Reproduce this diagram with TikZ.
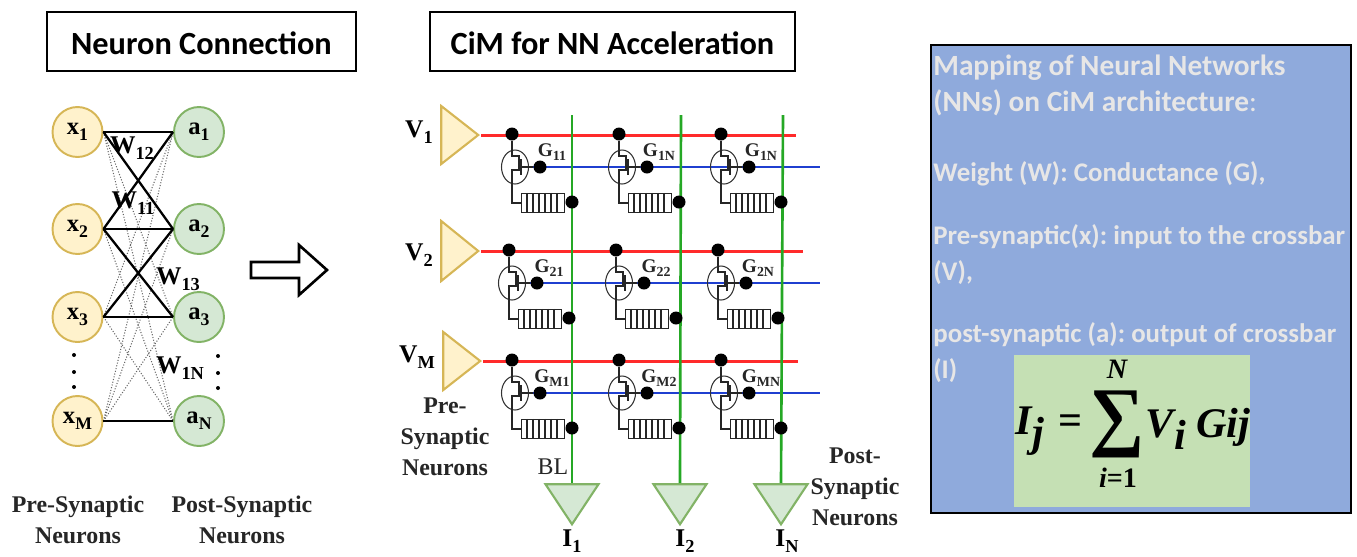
\documentclass[tikz,border=0pt]{standalone}
\usepackage{fontspec}
\setmainfont{Liberation Serif}
\newfontfamily\boxfont{Carlito}
\usetikzlibrary{positioning, shapes.geometric}
\definecolor{preFill}{HTML}{FFF2CC}
\definecolor{preLine}{HTML}{D6B656}
\definecolor{postFill}{HTML}{D5E8D4}
\definecolor{postLine}{HTML}{82B366}
\definecolor{panelFill}{HTML}{8FAADC}
\definecolor{panelText}{HTML}{E7E6E6}
\definecolor{eqFill}{HTML}{C5E0B4}
\definecolor{wordLine}{HTML}{FF2A2A}
\definecolor{senseLine}{HTML}{1F3FD0}
\definecolor{bitLine}{HTML}{25A825}
\newcommand{\subl}[2]{\textbf{#1}\raisebox{-0.5ex}{\scalebox{0.72}{\textbf{#2}}}}
\newcommand{\headline}[1]{{\fontsize{16.7}{20.1}\selectfont\textbf{#1}}}
\tikzset{
  titlebox/.style={rectangle, draw, line width=0.8pt, minimum height=1.18cm, text height=0.5cm, text depth=0cm, font=\boxfont\bfseries\fontsize{18.4}{22}\selectfont},
  preneuron/.style={circle, draw=preLine, fill=preFill, line width=1.1pt, minimum size=1cm, inner sep=0pt, font=\fontsize{14}{16}\selectfont},
  postneuron/.style={circle, draw=postLine, fill=postFill, line width=1.1pt, minimum size=1cm, inner sep=0pt, font=\fontsize{14}{16}\selectfont},
  strong/.style={line width=1.3pt},
  weak/.style={densely dotted, line width=0.6pt, black!60},
  ptdot/.style={circle, fill=black, minimum size=0.08cm, inner sep=0pt},
  weightlab/.style={font=\fontsize{14.5}{16}\selectfont},
  neuronlab/.style={align=center, font=\bfseries\fontsize{13.6}{17.6}\selectfont, text=black!85},
  amp/.style={isosceles triangle, isosceles triangle stretches, draw=preLine, fill=preFill, line width=1.2pt, minimum width=1.16cm, minimum height=0.74cm, inner sep=0pt, anchor=apex},
  sense/.style={isosceles triangle, isosceles triangle stretches, shape border rotate=270, draw=postLine, fill=postFill, line width=1.2pt, minimum width=1.06cm, minimum height=0.8cm, inner sep=0pt, anchor=apex},
  junction/.style={circle, fill=black, minimum size=0.26cm, inner sep=0pt},
  device/.style={ellipse, draw=black!80, line width=0.6pt, minimum width=0.54cm, minimum height=0.68cm, inner sep=0pt},
  rram/.style={rectangle, draw=black!85, line width=0.6pt, minimum width=0.86cm, minimum height=0.38cm, inner sep=0pt, fill=white},
  circuitwire/.style={draw=black!85, line width=0.6pt},
  wl/.style={wordLine, line width=1.7pt},
  sl/.style={senseLine, line width=1.3pt},
  bl/.style={bitLine, line width=1.5pt},
  condlab/.style={font=\fontsize{11}{12}\selectfont, text=black!85},
  eqpart/.style={font=\bfseries\itshape\fontsize{24}{26}\selectfont, inner sep=0pt},
  eqlimit/.style={font=\bfseries\itshape\fontsize{16}{18}\selectfont, inner sep=0pt},
}

\begin{document}
\begin{tikzpicture}[x=0.02cm, y=-0.02cm]
  \useasboundingbox (0,0) rectangle (1357,556);

  % Titles
  \node[titlebox, minimum width=6.18cm] (titleleft) at (201.5,41.5) {Neuron Connection};
  \node[titlebox, minimum width=7.3cm] (titlemid) at (612.5,41.5) {CiM for NN Acceleration};

  % Neurons
  \foreach \n/\ny in {1/132, 2/229, 3/317, M/421} {
    \node[preneuron] (x\n) at (77.5,\ny) {\subl{x}{\n}};
  }
  \foreach \n/\ny in {1/132, 2/229, 3/317, N/421} {
    \node[postneuron] (a\n) at (199,\ny) {\subl{a}{\n}};
  }

  % Weak connections
  \foreach \s/\t in {x1/a3, x1/aN, x2/aN, x3/aN, xM/a1, xM/a2, xM/a3, x3/a1} {
    \draw[weak] (\s.east) -- (\t.west);
  }
  % Strong connections
  \foreach \s/\t in {x1/a1, x1/a2, x2/a1, x2/a2, x2/a3, x3/a2, x3/a3, xM/aN} {
    \draw[strong] (\s.east) -- (\t.west);
  }

  \node[weightlab] (w12) at (132,148) {\subl{W}{12}};
  \node[weightlab] (w11) at (133,203) {\subl{W}{11}};
  \node[weightlab] (w13) at (178,279) {\subl{W}{13}};
  \node[weightlab] (w1n) at (180,368) {\subl{W}{1N}};

  \foreach \k/\dy in {1/355, 2/372, 3/387} {
    \node[ptdot] (dotl\k) at (74,\dy) {};
    \node[ptdot] (dotr\k) at (218,\dy+1) {};
  }

  \node[neuronlab] (prelab) at (78,520) {Pre-Synaptic\\Neurons};
  \node[neuronlab] (postlab) at (242,520) {Post-Synaptic\\Neurons};

  % Arrow between the panels
  \draw[line width=1.5pt, fill=white] (251,262) -- (299,262) -- (299,245) -- (327,270) -- (299,295) -- (299,278) -- (251,278) -- cycle;

  % Input and output triangles
  \node[amp] (v1) at (481,135) {};
  \node[amp, minimum width=1.2cm] (v2) at (481,251) {};
  \node[amp] (v3) at (483,361) {};
  \node[sense] (i1) at (572,527) {};
  \node[sense] (i2) at (680,527) {};
  \node[sense] (i3) at (781,527) {};

  % Word and sense lines
  \foreach \r/\ry/\redx/\gx in {1/135/796/530, 2/251/803/527, 3/361/798/530} {
    \coordinate (redend\r) at (\redx,\ry);
    \coordinate (bluestart\r) at (\gx,\ry+32);
    \coordinate (blueend\r) at (820,\ry+32);
    \draw[wl] (v\r.apex) -- (redend\r);
    \draw[sl] (bluestart\r) -- (blueend\r);
  }

  % Bit lines
  \foreach \c/\cx in {1/572, 2/681, 3/783} {
    \coordinate (bltop\c) at (\cx,115);
    \draw[bl] (bltop\c) -- (i\c.north);
  }

  % Crossbar cells
  \foreach \r/\ry/\dx/\la/\lb/\lc in {1/135/0/11/1N/1N, 2/251/-3/21/22/2N, 3/361/0/M1/M2/MN} {
    \foreach \c/\tx/\lab in {1/512/\la, 2/619/\lb, 3/721/\lc} {
      \node[junction] (top\r\c) at ({\tx+\dx},\ry-1) {};
      \node[device] (fet\r\c) at ({\tx+\dx+3},\ry+32) {};
      \node[junction] (gate\r\c) at ({\tx+\dx+28},\ry+32) {};
      \node[rram] (res\r\c) at ({\tx+\dx+31},\ry+68) {};
      \node[junction] (out\r\c) at ({\tx+\dx+60},\ry+67) {};
      \coordinate (bend\r\c) at ({\tx+\dx},\ry+68);
      \coordinate (bar\r\c) at ({\tx+\dx+9},\ry+32);
      \draw[circuitwire] (top\r\c) |- ++(7,22) |- ++(-7,14) -- (bend\r\c) -- (res\r\c.west);
      \draw[circuitwire] (res\r\c.east) -- (out\r\c);
      \draw[circuitwire] (bar\r\c) -- (gate\r\c);
      \draw[circuitwire] ([yshift=0.16cm]bar\r\c) -- ([yshift=-0.16cm]bar\r\c);
      \foreach \b in {6,12,18,24,30,36} {
        \draw[circuitwire] ([xshift=\b*0.02cm]res\r\c.north west) -- ([xshift=\b*0.02cm]res\r\c.south west);
      }
      \node[condlab] (glab\r\c) at ({\tx+\dx+40},\ry+17) {\subl{G}{\lab}};
    }
  }

  % Crossbar labels
  \node[weightlab] (vlab1) at (419,132) {\subl{V}{1}};
  \node[weightlab] (vlab2) at (419,255) {\subl{V}{2}};
  \node[weightlab] (vlab3) at (417,357) {\subl{V}{M}};
  \node[weightlab, inner sep=0pt] (ilab1) at (572,541) {\subl{I}{1}};
  \node[weightlab, inner sep=0pt] (ilab2) at (685,541) {\subl{I}{2}};
  \node[weightlab, inner sep=0pt] (ilab3) at (787,541) {\subl{I}{N}};
  \node[font=\fontsize{13.6}{16}\selectfont, text=black!85] (bllab) at (553,467) {BL};
  \node[neuronlab] (prelabmid) at (445,437) {Pre-\\Synaptic\\Neurons};
  \node[neuronlab] (postlabmid) at (855,487) {Post-\\Synaptic\\Neurons};

  % Mapping panel
  \node[rectangle, draw, line width=0.7pt, fill=panelFill, minimum width=8.4cm, minimum height=9.36cm] (panel) at (1141,279) {};
  \node[anchor=north west, align=left, inner sep=0pt, text=panelText, font=\boxfont\frenchspacing\fontsize{15.3}{20.1}\selectfont] (paneltext) at (933,55) {%
    \headline{Mapping of Neural Networks}\\
    \headline{(NNs) on CiM architecture}{\fontsize{16.7}{20.1}\selectfont:}\\[19.6pt]
    \textbf{Weight (W): Conductance (G),}\\[16.2pt]
    \textbf{Pre-synaptic(x): input to the crossbar}\\
    \textbf{(V),}\\[15.6pt]
    \textbf{post-synaptic (a): output of crossbar}\\
    \textbf{(I)}};

  % Equation
  \node[rectangle, fill=eqFill, minimum width=4.72cm, minimum height=3.04cm] (eqbox) at (1132,431) {};
  \node[eqpart] (eqlhs) at (1049,431) {I\raisebox{-0.6ex}{j}\,\,\upshape=};
  \node[font=\bfseries\fontsize{44}{44}\selectfont, inner sep=0pt] (eqsum) at (1117,424) {∑};
  \node[eqlimit] (eqtop) at (1117,369) {N};
  \node[eqlimit] (eqbot) at (1118,478) {i\upshape =1};
  \node[eqpart] (eqrhs) at (1198,429) {V\raisebox{-0.6ex}{i} Gij};
\end{tikzpicture}
\end{document}
